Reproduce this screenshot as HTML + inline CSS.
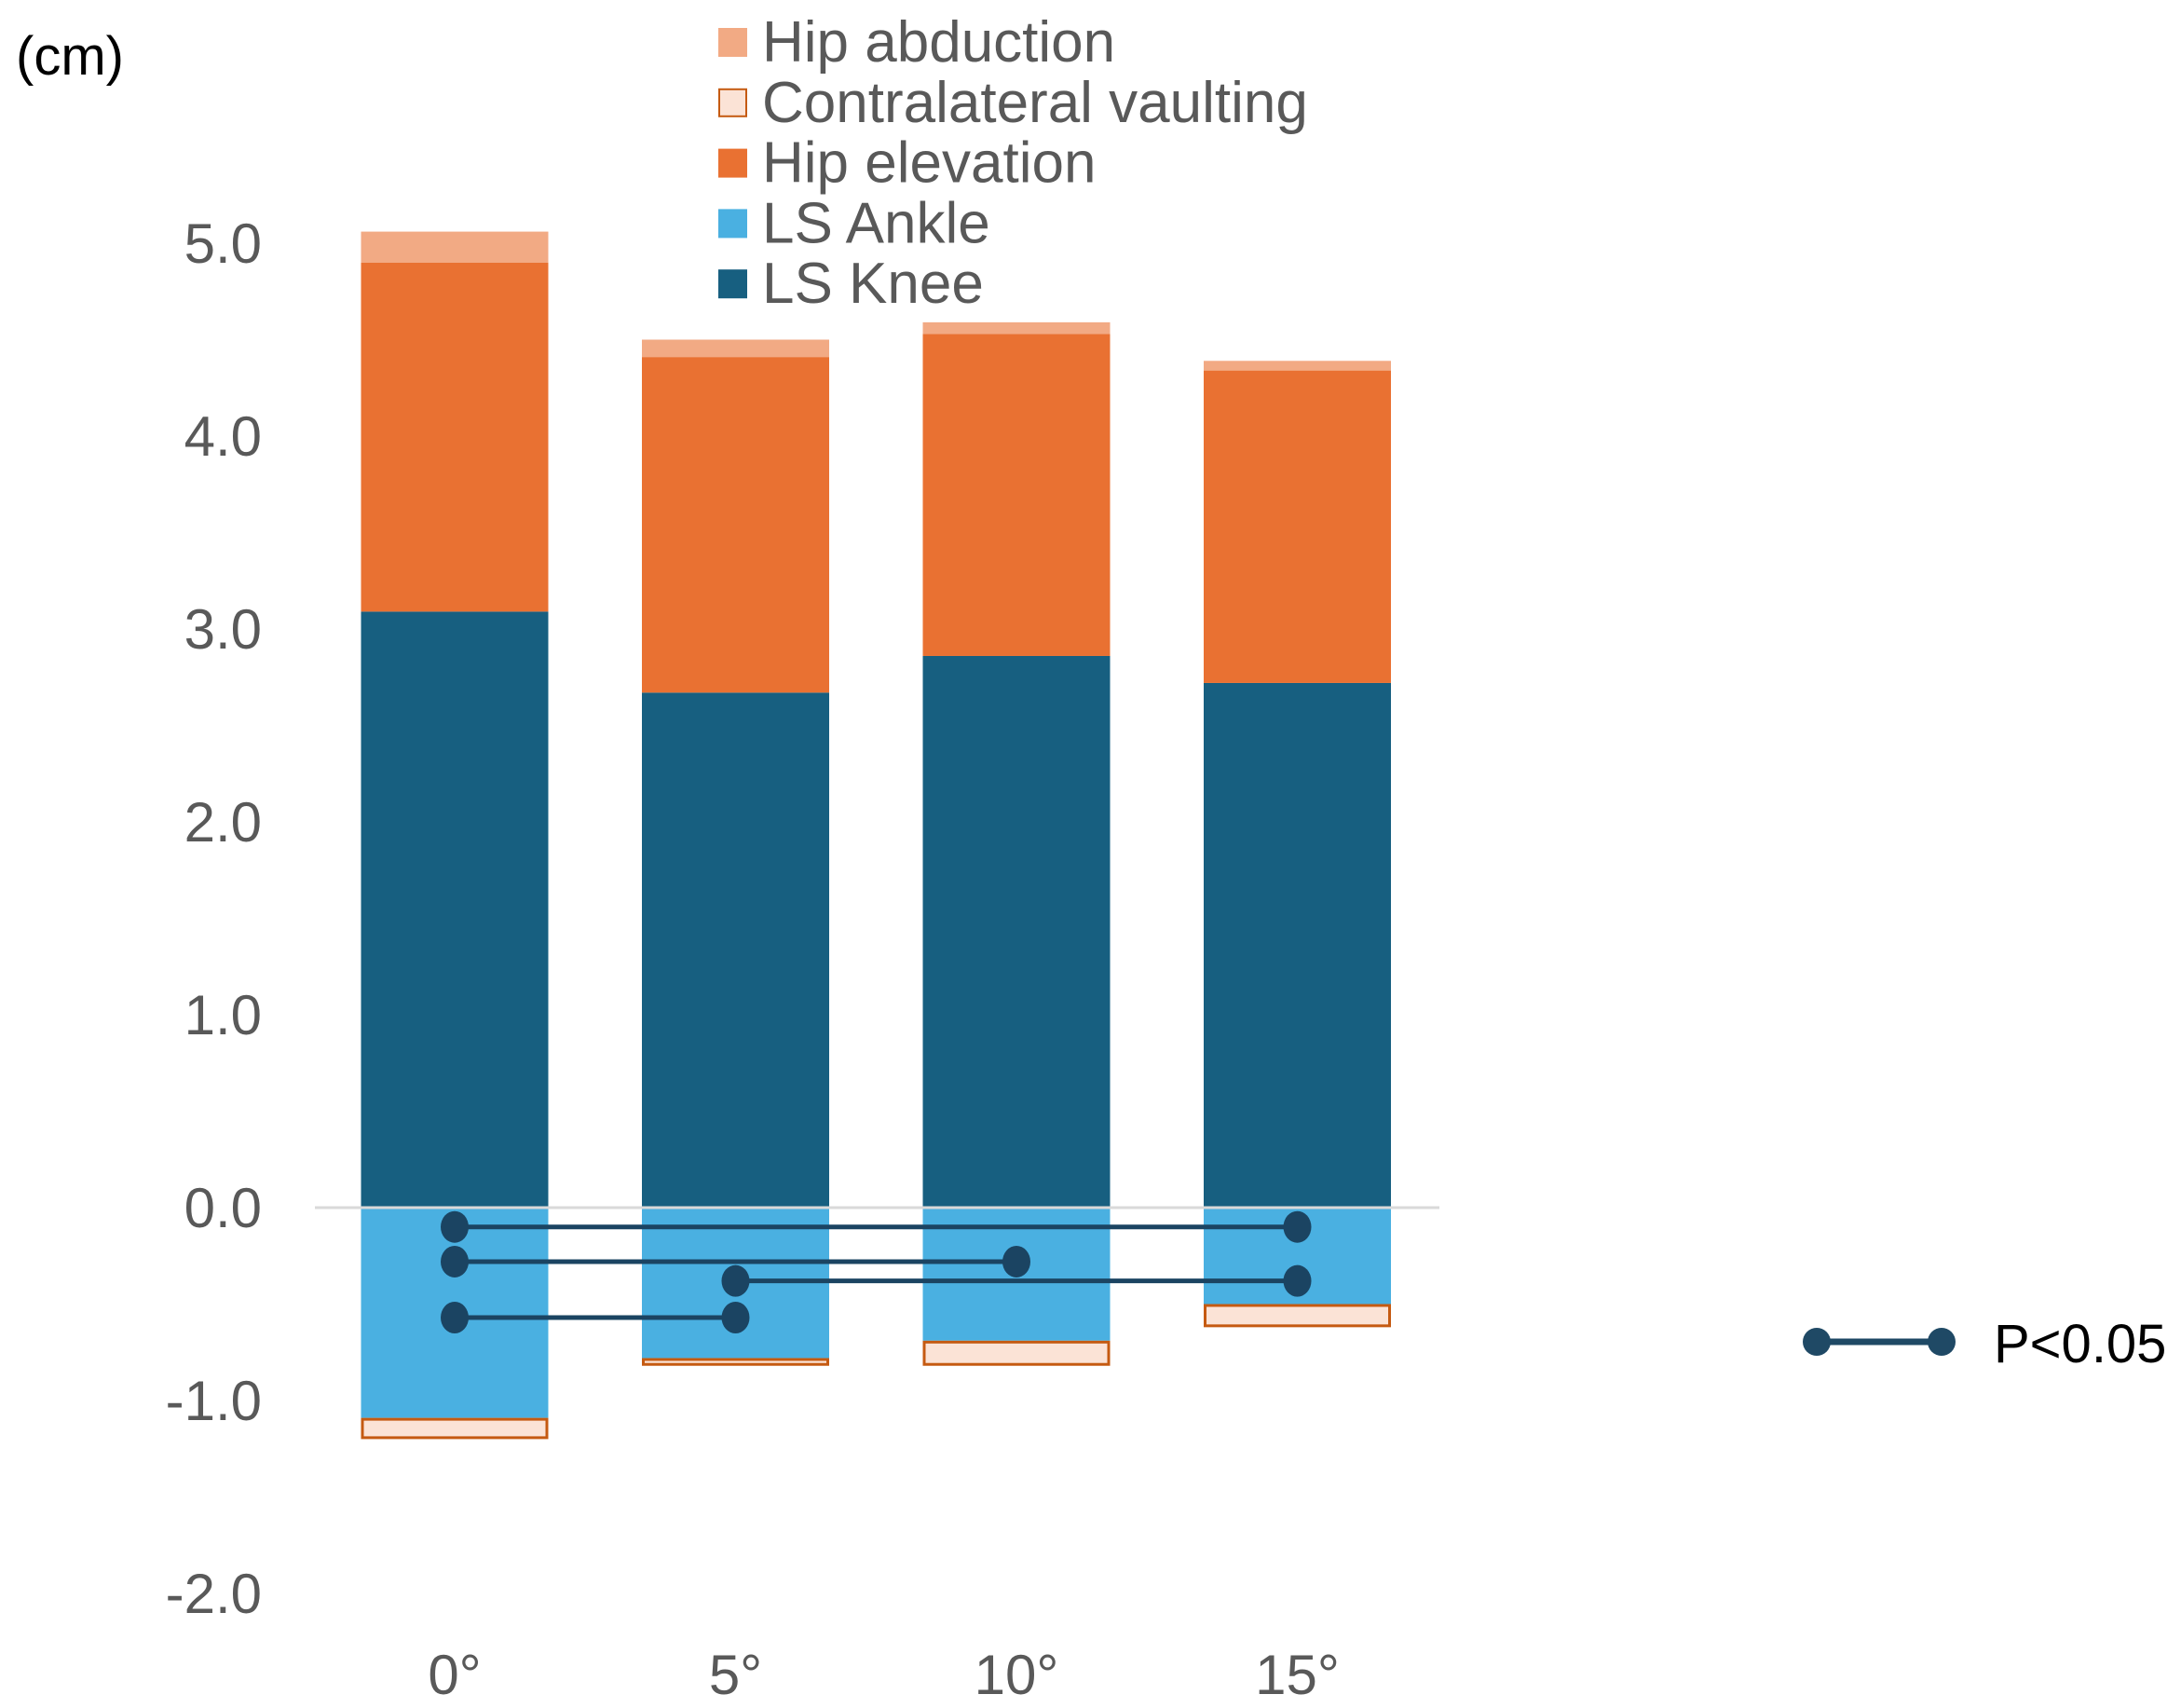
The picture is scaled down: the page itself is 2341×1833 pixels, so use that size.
<!DOCTYPE html>
<html><head><meta charset="utf-8"><style>
html,body{margin:0;padding:0;background:#fff;}
svg{display:block;font-family:"Liberation Sans",Arial,sans-serif;}
</style></head><body>
<svg id="chart" width="2341" height="1833" viewBox="0 0 2341 1833">
<text x="17" y="80" font-size="58" fill="#000">(cm)</text>
<g id="yaxis"></g>
<g id="xaxis"></g>
<g id="bars"></g>
<line x1="338" x2="1545" y1="1296" y2="1296" stroke="#d9d9d9" stroke-width="3"/>
<g id="sig"></g>
<g id="legend"></g>
<g>
<line x1="1950" x2="2084" y1="1440" y2="1440" stroke="#1f4965" stroke-width="7"/>
<circle cx="1950" cy="1440" r="15" fill="#1f4965"/>
<circle cx="2084" cy="1440" r="15" fill="#1f4965"/>
<text x="2140" y="1462" font-size="58" fill="#000">P&lt;0.05</text>
</g>
</svg>
<script>
const categories = ["0°","5°","10°","15°"];
const lsKnee = [3.09, 2.67, 2.86, 2.72];
const hipElevation = [1.81, 1.74, 1.67, 1.62];
const hipAbduction = [0.16, 0.09, 0.06, 0.05];
const lsAnkle = [-1.09, -0.78, -0.69, -0.50];
const contralateralVaulting = [-0.11, -0.04, -0.13, -0.12];
const yTicks = [5, 4, 3, 2, 1, 0, -1, -2];
const sigFrom = [0, 0, 1, 0];
const sigTo = [3, 2, 3, 1];
const sigLevel = [-0.10, -0.28, -0.38, -0.57];

const NS = "http://www.w3.org/2000/svg";
const y0 = 1296, unit = 207;
const yScale = v => y0 - v * unit;
const xCenter = i => 488 + i * 301.5;
const bw = 201;
function mk(tag, attrs, parent){const e=document.createElementNS(NS,tag);for(const k in attrs)e.setAttribute(k,attrs[k]);parent.appendChild(e);return e;}

const yaxis = document.getElementById('yaxis');
yTicks.forEach(t=>{
  const e = mk('text',{x:281,y:yScale(t)+21,'font-size':60,fill:'#595959','text-anchor':'end'},yaxis);
  e.textContent = t.toFixed(1);
  
  
});
const xaxis = document.getElementById('xaxis');
categories.forEach((c,i)=>{
  const e = mk('text',{x:xCenter(i),y:1818,'font-size':60,fill:'#595959','text-anchor':'middle'},xaxis);
  e.textContent = c;
  
  
});

const bars = document.getElementById('bars');
categories.forEach((c,i)=>{
  const x = xCenter(i)-bw/2;
  let base = 0;
  [[lsKnee,'#175f80','bar-ls-knee'],[hipElevation,'#e97132','bar-hip-elevation'],[hipAbduction,'#f2aa84','bar-hip-abduction']].forEach(([arr,col,nm])=>{
    const top = base + arr[i];
    const r = mk('rect',{x:x,y:yScale(top),width:bw,height:yScale(base)-yScale(top),fill:col},bars);
    
    
    base = top;
  });
  const a = mk('rect',{x:x,y:y0,width:bw,height:yScale(lsAnkle[i])-y0,fill:'#4ab0e1'},bars);
  
  
  const vb = lsAnkle[i]+contralateralVaulting[i];
  const v = mk('rect',{x:x+1.5,y:yScale(lsAnkle[i])+1.5,width:bw-3,height:yScale(vb)-yScale(lsAnkle[i])-3,fill:'#fbe3d6',stroke:'#c55a11','stroke-width':3},bars);
  
  
});

const sig = document.getElementById('sig');
sigLevel.forEach((lv,k)=>{
  const y = yScale(lv), x1 = xCenter(sigFrom[k]), x2 = xCenter(sigTo[k]);
  const g = mk('g',{},sig);
  
  
  mk('line',{x1:x1,x2:x2,y1:y,y2:y,stroke:'#1b4462','stroke-width':5},g);
  mk('ellipse',{cx:x1,cy:y,rx:15,ry:17,fill:'#1b4462'},g);
  mk('ellipse',{cx:x2,cy:y,rx:15,ry:17,fill:'#1b4462'},g);
});

const legendItems = [["Hip abduction","#f2aa84",null],["Contralateral vaulting","#fbe3d6","#c55a11"],["Hip elevation","#e97132",null],["LS Ankle","#4ab0e1",null],["LS Knee","#175f80",null]];
const legend = document.getElementById('legend');
legendItems.forEach((it,k)=>{
  const cy = 45 + k*64.8;
  const g = mk('g',{},legend);
  
  
  const attrs = {x:771,y:cy-15,width:31,height:31,fill:it[1]};
  if(it[2]){attrs.stroke=it[2];attrs['stroke-width']=2;attrs.x=772;attrs.y=cy-14;attrs.width=29;attrs.height=29;}
  mk('rect',attrs,g);
  const t = mk('text',{x:818,y:cy+21,'font-size':62,fill:'#595959'},g);
  t.textContent = it[0];
});
</script>
</body></html>
